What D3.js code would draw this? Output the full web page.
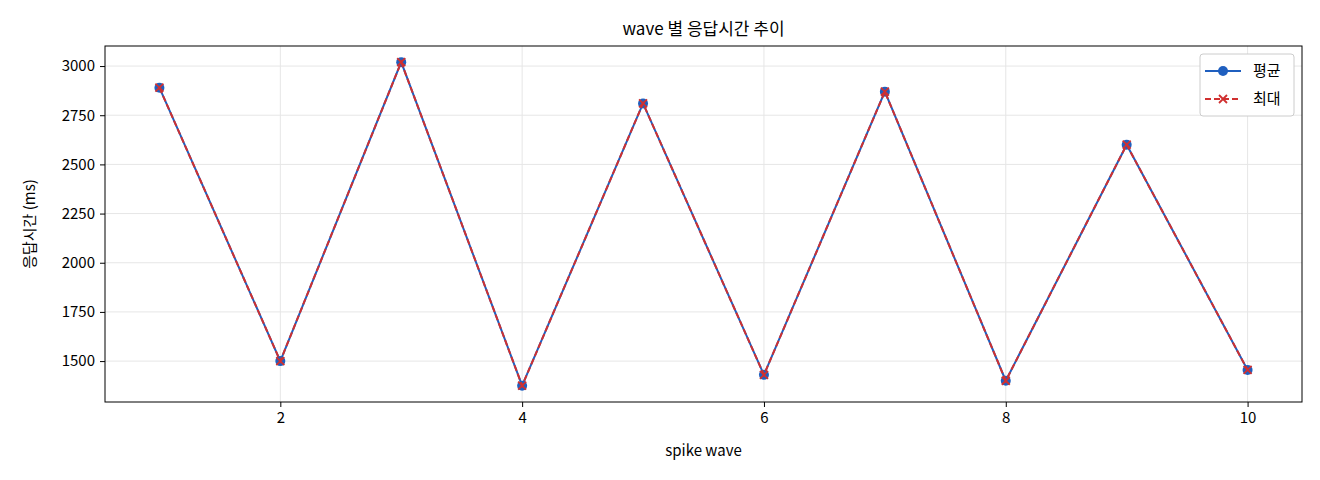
<!DOCTYPE html><html><head><meta charset="utf-8">
<script src="https://cdn.jsdelivr.net/npm/d3@7"></script>
<style>body{margin:0;background:#fff}text{font-family:"Noto Sans CJK KR","Noto Sans",sans-serif;fill:#000}</style></head><body>
<svg id="c" width="1320" height="480"></svg>
<script>
const waves=[1,2,3,4,5,6,7,8,9,10];
const avgVals=[2890,1500,3020,1375,2810,1430,2870,1400,2600,1455];
const maxVals=[2890,1500,3020,1375,2810,1430,2870,1400,2600,1455];
const xTicks=[2,4,6,8,10];
const yTicks=[1500,1750,2000,2250,2500,2750,3000];
const svg=d3.select("#c");
const L=105,R=1302,T=46,B=402;
const x=d3.scaleLinear().domain([0.55,10.45]).range([L,R]);
const y=d3.scaleLinear().domain([1292,3102]).range([B,T]);
const g=svg.append("g");
g.selectAll(".gx").data(xTicks).join("line").attr("x1",d=>x(d)).attr("x2",d=>x(d)).attr("y1",T).attr("y2",B).attr("stroke","#e6e6e6");
g.selectAll(".gy").data(yTicks).join("line").attr("y1",d=>y(d)).attr("y2",d=>y(d)).attr("x1",L).attr("x2",R).attr("stroke","#e6e6e6");
const ax=svg.append("g").attr("transform",`translate(0,${B})`).call(d3.axisBottom(x).tickValues(xTicks).tickFormat(d3.format("d")).tickSize(5).tickPadding(5));
const ay=svg.append("g").attr("transform",`translate(${L},0)`).call(d3.axisLeft(y).tickValues(yTicks).tickFormat(d3.format("d")).tickSize(5).tickPadding(5));
[ax,ay].forEach(a=>{a.select(".domain").remove();a.selectAll("text").style("font-size","15px").attr("fill","#000");a.selectAll("line").attr("stroke","#000");});
svg.append("rect").attr("x",L).attr("y",T).attr("width",R-L).attr("height",B-T).attr("fill","none").attr("stroke","#000");
const line=d3.line().x((d,i)=>x(waves[i])).y(d=>y(d));
svg.append("path").attr("d",line(avgVals)).attr("fill","none").attr("stroke","#1f5fbf").attr("stroke-width",2);
svg.selectAll(".pt").data(avgVals).join("circle").attr("cx",(d,i)=>x(waves[i])).attr("cy",d=>y(d)).attr("r",5).attr("fill","#1f5fbf");
svg.append("path").attr("d",line(maxVals)).attr("fill","none").attr("stroke","#d03030").attr("stroke-width",2).attr("stroke-dasharray","6,3");
const cross=(sel,cx,cy,s)=>{sel.append("path").attr("d",`M${cx-s},${cy-s}L${cx+s},${cy+s}M${cx-s},${cy+s}L${cx+s},${cy-s}`).attr("stroke","#d03030").attr("stroke-width",1.8);};
maxVals.forEach((d,i)=>cross(svg,x(waves[i]),y(d),4));
svg.append("text").attr("x",(L+R)/2).attr("y",35).attr("text-anchor","middle").style("font-size","17px").text("wave 별 응답시간 추이");
svg.append("text").attr("x",(L+R)/2).attr("y",456).attr("text-anchor","middle").style("font-size","15px").text("spike wave");
svg.append("text").attr("transform","translate(35,224) rotate(-90)").attr("text-anchor","middle").style("font-size","15px").text("응답시간 (ms)");
const lg=svg.append("g");
lg.append("rect").attr("x",1200).attr("y",54).attr("width",94).attr("height",62).attr("rx",3).attr("fill","#fff").attr("stroke","#ccc");
lg.append("line").attr("x1",1205).attr("x2",1241).attr("y1",71).attr("y2",71).attr("stroke","#1f5fbf").attr("stroke-width",2);
lg.append("circle").attr("cx",1223).attr("cy",71).attr("r",5).attr("fill","#1f5fbf");
lg.append("line").attr("x1",1205).attr("x2",1241).attr("y1",99).attr("y2",99).attr("stroke","#d03030").attr("stroke-width",2).attr("stroke-dasharray","6,3");
cross(lg,1223,99,4);
lg.append("text").attr("x",1253).attr("y",76).style("font-size","15px").text("평균");
lg.append("text").attr("x",1253).attr("y",104).style("font-size","15px").text("최대");
</script></body></html>
